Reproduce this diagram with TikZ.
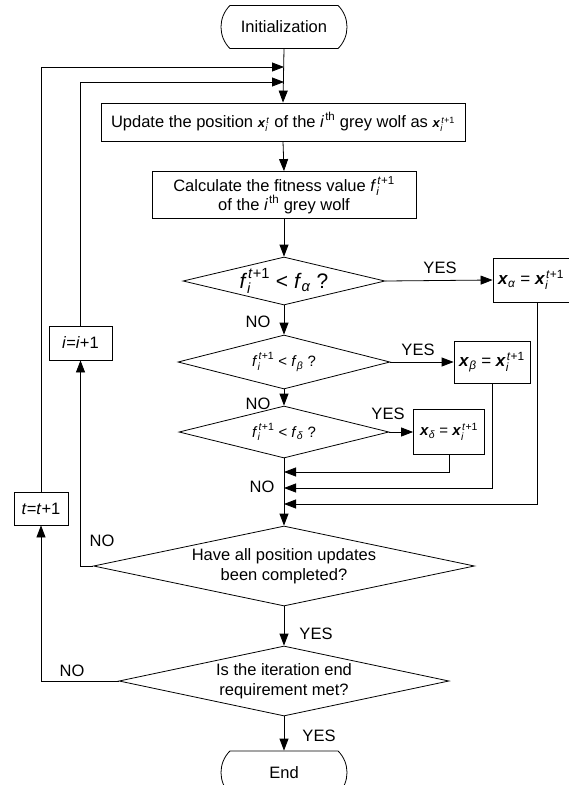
\documentclass[tikz,border=0pt]{standalone}
\usepackage{amsmath}
\usepackage{fontspec}
\setmainfont{Liberation Sans}
\usetikzlibrary{shapes.geometric,shapes.misc,arrows.meta}

% italic symbols with italic correction, so scripts clear the slant
\newcommand{\vx}{\textbf{\textit{x\/}}}
\newcommand{\vi}[1]{\textit{#1\/}}

\begin{document}
\begin{tikzpicture}[x=1pt,y=-1pt,
  line width=0.8pt,
  every node/.style={font=\fontsize{16.5}{19.5}\selectfont},
  arr/.style={-{Triangle[length=12pt,width=9pt]}},
  proc/.style={draw, rectangle, inner sep=0pt, align=center},
  term/.style={draw, rounded rectangle, rounded rectangle arc length=90,
               minimum width=126pt, minimum height=43pt, inner sep=0pt},
  test/.style={draw, diamond, inner sep=0pt, align=center},
  lbl/.style={inner sep=0pt}]

\useasboundingbox (0,0) rectangle (569,785);

% main column
\node[term] (init) at (284,27) {Initialization};
\node[proc, minimum width=364pt, minimum height=38pt] (upd) at (283,122)
  {Update the position {\fontsize{13}{15}\selectfont$\vx_{\vi{i}}^{\kern1pt\vi{t}}$} of the $\vi{i}^{\kern1pt\text{th}}$ grey wolf as {\fontsize{13}{15}\selectfont$\vx_{\vi{i}}^{\kern1pt\vi{t}\text{+1}}$}};
\node[proc, minimum width=264pt, minimum height=47pt] (calc) at (284,195)
  {Calculate the fitness value $\vi{f}_{\vi{i}}^{\kern1pt\vi{t}\text{+1}}$\\[-2pt]of the $\vi{i}^{\kern1pt\text{th}}$ grey wolf};

\node[test, aspect=4.2, minimum width=202pt, minimum height=48pt, font=\fontsize{21}{24}\selectfont] (d1) at (284,281)
  {$\vi{f}_{\vi{i}}^{\kern1pt\vi{t}\text{+1}}\text{ < }\vi{f}_{\vi{α}}\text{ ?}$};
\node[test, aspect=3.93, minimum width=212pt, minimum height=54pt, font=\fontsize{15}{18}\selectfont] (d2) at (284,362)
  {$\vi{f}_{\vi{i}}^{\kern1pt\vi{t}\text{+1}}\text{ < }\vi{f}_{\vi{β}}\text{ ?}$};
\node[test, aspect=4.04, minimum width=210pt, minimum height=52pt, font=\fontsize{15}{18}\selectfont] (d3) at (284,432)
  {$\vi{f}_{\vi{i}}^{\kern1pt\vi{t}\text{+1}}\text{ < }\vi{f}_{\vi{δ}}\text{ ?}$};

\node[test, aspect=4.76, minimum width=381pt, minimum height=80pt] (d4) at (284,566)
  {Have all position updates\\been completed?};
\node[test, aspect=4.71, minimum width=330pt, minimum height=70pt] (d5) at (284,681)
  {Is the iteration end\\requirement met?};
\node[term] (end) at (284,772.5) {End};

% leader updates
\node[proc, minimum width=88pt, minimum height=44pt, font=\fontsize{17}{20}\selectfont] (abox) at (537,280)
  {\hspace*{-12pt}$\vx_{\vi{α}}\text{ = }\vx_{\vi{i}}^{\kern1pt\vi{t}\text{+1}}$};
\node[proc, minimum width=76pt, minimum height=42pt, font=\fontsize{17}{20}\selectfont] (bbox) at (492,362)
  {$\vx_{\vi{β}}\text{ = }\vx_{\vi{i}}^{\kern1pt\vi{t}\text{+1}}$};
\node[proc, minimum width=71pt, minimum height=45pt, font=\fontsize{15}{18}\selectfont] (dbox) at (449,432)
  {$\vx_{\vi{δ}}\text{ = }\vx_{\vi{i}}^{\kern1pt\vi{t}\text{+1}}$};

% counters
\node[proc, minimum width=63pt, minimum height=34pt] (ibox) at (80.5,343) {\vi{i}=\vi{i}+1};
\node[proc, minimum width=54pt, minimum height=33pt] (tbox) at (41,508.5) {\vi{t}=\vi{t}+1};

% junction points on the main line
\coordinate (jt) at (284,67);
\coordinate (ji) at (284,82);
\coordinate (r1) at (284,472);
\coordinate (r2) at (284,488);
\coordinate (r3) at (284,504);

% connectors
\draw[arr] (init.south) -- (upd.north);
\draw[arr] (tbox.north) |- (jt);
\draw[arr] (ibox.north) |- (ji);
\draw[arr] (upd.south) -- (calc.north);
\draw[arr] (calc.south) -- (d1.north);
\draw[arr] (d1.east) -- (abox.west);
\draw[arr] (d1.south) -- (d2.north);
\draw[arr] (d2.east) -- (bbox.west);
\draw[arr] (d2.south) -- (d3.north);
\draw[arr] (d3.east) -- (dbox.west);
\draw[arr] (d3.south) -- (d4.north);
\draw[arr] (dbox.south) |- (r1);
\draw[arr] (bbox.south) |- (r2);
\draw[arr] (abox.south) |- (r3);
\draw[arr] (d4.west) -| (ibox.south);
\draw[arr] (d4.south) -- (d5.north);
\draw[arr] (d5.west) -| (tbox.south);
\draw[arr] (d5.south) -- (end.north);

% branch labels
\node[lbl] (y1) at (440,268) {YES};
\node[lbl] (n1) at (258,322) {NO};
\node[lbl] (y2) at (418,350) {YES};
\node[lbl] (n2) at (258,404) {NO};
\node[lbl] (y3) at (388,414) {YES};
\node[lbl] (n3) at (262,487) {NO};
\node[lbl] (n4) at (102,541) {NO};
\node[lbl] (y4) at (316,634) {YES};
\node[lbl] (n5) at (72,671) {NO};
\node[lbl] (y5) at (319,736) {YES};
\end{tikzpicture}
\end{document}
